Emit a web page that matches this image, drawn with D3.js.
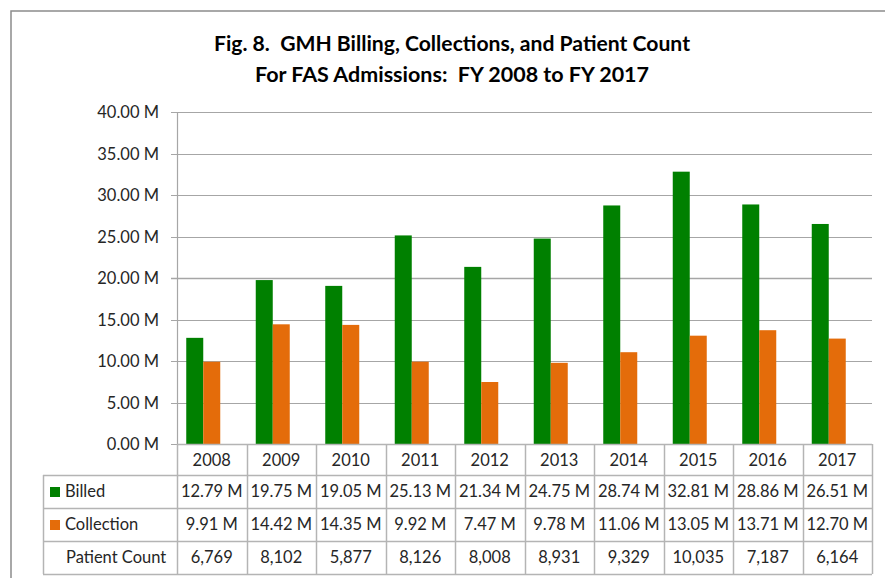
<!DOCTYPE html>
<html>
<head>
<meta charset="utf-8">
<script src="https://cdn.jsdelivr.net/npm/d3@7"></script>
<style>
  html, body { margin: 0; padding: 0; background: #fff; }
  svg { display: block; font-family: Lato, "Open Sans", sans-serif; }
  .lbl { fill: #262626; font-size: 16.5px; }
  .title { fill: #000; font-size: 21px; font-weight: bold; white-space: pre; }
</style>
</head>
<body>
<div id="chart"></div>
<script>
// chart data
const years = ["2008", "2009", "2010", "2011", "2012", "2013", "2014", "2015", "2016", "2017"];
const billed = [12.79, 19.75, 19.05, 25.13, 21.34, 24.75, 28.74, 32.81, 28.86, 26.51];       // millions
const collection = [9.91, 14.42, 14.35, 9.92, 7.47, 9.78, 11.06, 13.05, 13.71, 12.70];       // millions
const patientCount = [6769, 8102, 5877, 8126, 8008, 8931, 9329, 10035, 7187, 6164];
const seriesNames = ["Billed", "Collection", "Patient Count"];
const yTicks = [0, 5, 10, 15, 20, 25, 30, 35, 40];
const titleLines = ["Fig. 8.  GMH Billing, Collections, and Patient Count",
                    "For FAS Admissions:  FY 2008 to FY 2017"];

const W = 885, H = 578;
const colors = {"Billed": "#008000", "Collection": "#e46c0a", "Patient Count": "none"};
const gridColor = "#a6a6a6", tableColor = "#b4b4b4";

// plot area
const plot = {left: 177, right: 872, top: 112, bottom: 444};
const rowH = 33;
const tableLeft = 43;

const svg = d3.select("#chart").append("svg")
    .attr("width", W).attr("height", H);

// outer chart frame
svg.append("rect")
    .attr("x", 11).attr("y", 11)
    .attr("width", W + 20).attr("height", H + 20)
    .attr("fill", "none").attr("stroke", "#8c8c8c").attr("stroke-width", 1.5);

// title
svg.selectAll("text.title")
    .data(titleLines)
    .enter().append("text")
    .classed("title", true)
    .attr("xml:space", "preserve")
    .attr("x", 452)
    .attr("y", (d, i) => 51 + i * 31)
    .attr("text-anchor", "middle")
    .attr("textLength", (d, i) => i === 0 ? 476 : 394)
    .attr("lengthAdjust", "spacingAndGlyphs")
    .text(d => d);

// scales
const x = d3.scaleBand().domain(years).range([plot.left, plot.right]);
const xs = d3.scaleBand().domain(seriesNames).range([0, 51]);
const y = d3.scaleLinear().domain([0, 40]).range([plot.bottom, plot.top]);

// gridlines
svg.append("g").selectAll("line")
    .data(yTicks)
    .enter().append("line")
    .attr("x1", plot.left - 6).attr("x2", plot.right)
    .attr("y1", d => Math.round(y(d)) + 0.5).attr("y2", d => Math.round(y(d)) + 0.5)
    .attr("stroke", gridColor).attr("stroke-width", d => d === 20 ? 1.6 : 1.2);

// y axis line
svg.append("line")
    .attr("x1", plot.left + 0.5).attr("x2", plot.left + 0.5)
    .attr("y1", plot.top).attr("y2", plot.bottom)
    .attr("stroke", gridColor).attr("stroke-width", 1.2);

// y labels
svg.append("g").selectAll("text")
    .data(yTicks)
    .enter().append("text")
    .classed("lbl", true)
    .attr("x", 159)
    .attr("y", d => y(d) + 6)
    .attr("text-anchor", "end")
    .text(d => d3.format(".2f")(d) + " M");

// bars
const seriesData = seriesNames.map((name, si) => ({
    name: name,
    values: years.map((yr, i) => ({
        year: yr,
        v: si === 0 ? billed[i] : si === 1 ? collection[i] : patientCount[i] / 1e6
    }))
}));

const groupOffset = (x.bandwidth() - 51) / 2;
svg.append("g").selectAll("g")
    .data(seriesData)
    .enter().append("g")
    .attr("fill", d => colors[d.name])
    .selectAll("rect")
    .data(d => d.values.map(v => Object.assign({name: d.name}, v)))
    .enter().append("rect")
    .attr("x", d => x(d.year) + groupOffset + xs(d.name))
    .attr("y", d => y(d.v))
    .attr("width", xs.bandwidth())
    .attr("height", d => plot.bottom - y(d.v));

// ---- data table ----
const tbl = svg.append("g");
const rowsTop = plot.bottom + rowH - 2;  // first data row top
const tableBottom = rowsTop + 3 * rowH;

// horizontal lines of table
tbl.append("line")
    .attr("x1", plot.left).attr("x2", plot.right)
    .attr("y1", plot.bottom + 0.5).attr("y2", plot.bottom + 0.5)
    .attr("stroke", tableColor).attr("stroke-width", 1.5);
[0, 1, 2, 3].forEach(r => {
    tbl.append("line")
        .attr("x1", tableLeft).attr("x2", plot.right)
        .attr("y1", rowsTop + r * rowH + 0.5).attr("y2", rowsTop + r * rowH + 0.5)
        .attr("stroke", tableColor).attr("stroke-width", 1.5);
});

// vertical lines: category boundaries
const bounds = years.map(yr => x(yr)).concat([plot.right]);
tbl.selectAll("line.v")
    .data(bounds)
    .enter().append("line")
    .attr("class", "v")
    .attr("x1", d => Math.round(d) + 0.5).attr("x2", d => Math.round(d) + 0.5)
    .attr("y1", plot.bottom).attr("y2", tableBottom)
    .attr("stroke", tableColor).attr("stroke-width", 1.5);
tbl.append("line")
    .attr("x1", tableLeft + 0.5).attr("x2", tableLeft + 0.5)
    .attr("y1", rowsTop).attr("y2", tableBottom)
    .attr("stroke", tableColor).attr("stroke-width", 1.5);

// year header
tbl.selectAll("text.yr")
    .data(years)
    .enter().append("text")
    .attr("class", "lbl yr")
    .attr("x", d => x(d) + x.bandwidth() / 2)
    .attr("y", plot.bottom + 22)
    .attr("text-anchor", "middle")
    .text(d => d);

// rows
const fmtM = d => d3.format(".2f")(d) + " M";
const rowTexts = [billed.map(fmtM), collection.map(fmtM), patientCount.map(d3.format(","))];
rowTexts.forEach((vals, r) => {
    tbl.selectAll("text.r" + r)
        .data(vals)
        .enter().append("text")
        .attr("class", "lbl r" + r)
        .attr("x", (d, i) => x(years[i]) + x.bandwidth() / 2)
        .attr("y", rowsTop + r * rowH + 22)
        .attr("text-anchor", "middle")
        .text(d => d);
});

// row headers with legend keys
seriesNames.forEach((name, r) => {
    if (colors[name] !== "none") {
        tbl.append("rect")
            .attr("x", 50).attr("y", rowsTop + r * rowH + 12)
            .attr("width", 10).attr("height", 10)
            .attr("fill", colors[name]);
    }
    tbl.append("text")
        .classed("lbl", true)
        .attr("x", colors[name] !== "none" ? 65 : 66)
        .attr("y", rowsTop + r * rowH + 22)
        .text(name);
});
</script>
</body>
</html>
